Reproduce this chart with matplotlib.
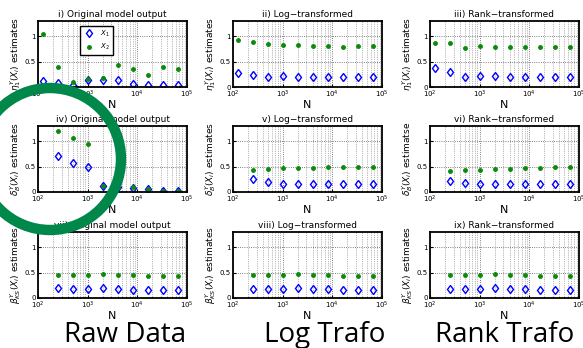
import numpy as np
import matplotlib.pyplot as plt
from matplotlib.patches import Ellipse

N10 = [128, 256, 512, 1024, 2048, 4096, 8192, 16384, 32768, 65536]
N9 = N10[1:]

titles = ["i) Original model output", "ii) Log\u2212transformed", "iii) Rank\u2212transformed",
          "iv) Original model output", "v) Log\u2212transformed", "vi) Rank\u2212transformed",
          "vii) Original model output", "viii) Log\u2212transformed", "ix) Rank\u2212transformed"]
ylabels = [r"$\eta_1^Y(X_i)$ estimates"] * 3 + \
          [r"$\delta_B^Y(X_i)$ estimates", r"$\delta_B^Y(X_i)$ estimates", r"$\delta_B^Y(X_i)$ estimatse"] + \
          [r"$\beta_{KS}^Y(X_i)$ estimates"] * 3

# eta (row 1)
eta_raw_x1 = [0.12, 0.08, 0.03, 0.14, 0.13, 0.13, 0.06, 0.03, 0.03, 0.03]
eta_raw_x2 = [1.05, 0.39, 0.09, 0.16, 0.17, 0.44, 0.36, 0.24, 0.39, 0.36]
eta_log_x1 = [0.28, 0.24, 0.20, 0.21, 0.20, 0.19, 0.19, 0.19, 0.19, 0.19]
eta_log_x2 = [0.92, 0.89, 0.84, 0.82, 0.82, 0.80, 0.80, 0.79, 0.80, 0.80]
eta_rank_x1 = [0.38, 0.29, 0.20, 0.22, 0.21, 0.19, 0.19, 0.19, 0.19, 0.19]
eta_rank_x2 = [0.87, 0.87, 0.76, 0.80, 0.79, 0.78, 0.78, 0.78, 0.78, 0.78]

# delta (row 2)
dB_raw_x1 = [0.71, 0.58, 0.49, 0.12, 0.10, 0.08, 0.05, 0.01, 0.01]
dB_raw_x2 = [1.21, 1.06, 0.95, 0.12, 0.10, 0.09, 0.06, 0.01, 0.01]
dB_log_x1 = [0.25, 0.19, 0.16, 0.15, 0.15, 0.15, 0.15, 0.15, 0.15]
dB_log_x2 = [0.44, 0.45, 0.47, 0.47, 0.48, 0.49, 0.49, 0.49, 0.50]
dB_rank_x1 = [0.21, 0.17, 0.15, 0.15, 0.15, 0.15, 0.15, 0.15, 0.15]
dB_rank_x2 = [0.42, 0.43, 0.44, 0.45, 0.46, 0.47, 0.48, 0.49, 0.50]

# beta KS (row 3)
bKS_raw_x1 = [0.19, 0.18, 0.18, 0.20, 0.18, 0.16, 0.16, 0.16, 0.16]
bKS_raw_x2 = [0.45, 0.45, 0.45, 0.47, 0.46, 0.45, 0.44, 0.44, 0.44]
bKS_log_x1 = [0.18, 0.17, 0.17, 0.19, 0.17, 0.17, 0.16, 0.16, 0.15]
bKS_log_x2 = [0.45, 0.45, 0.45, 0.47, 0.46, 0.45, 0.44, 0.44, 0.44]
bKS_rank_x1 = [0.18, 0.17, 0.17, 0.19, 0.17, 0.17, 0.16, 0.16, 0.15]
bKS_rank_x2 = [0.45, 0.45, 0.45, 0.47, 0.46, 0.45, 0.44, 0.44, 0.44]

series = [(N10, eta_raw_x1, eta_raw_x2), (N10, eta_log_x1, eta_log_x2), (N10, eta_rank_x1, eta_rank_x2),
          (N9, dB_raw_x1, dB_raw_x2), (N9, dB_log_x1, dB_log_x2), (N9, dB_rank_x1, dB_rank_x2),
          (N9, bKS_raw_x1, bKS_raw_x2), (N9, bKS_log_x1, bKS_log_x2), (N9, bKS_rank_x1, bKS_rank_x2)]

W, H = 583, 348
fig = plt.figure(figsize=(W / 100, H / 100), dpi=100)

lefts = [38, 233, 430]
tops = [21, 126, 232]
aw, ah = 149, 66

for k in range(9):
    r, c = divmod(k, 3)
    ax = fig.add_axes([lefts[c] / W, 1 - (tops[r] + ah) / H, aw / W, ah / H])
    n, x1, x2 = series[k]
    ax.plot(n, x1, 'd', mfc='none', mec='blue', ms=4.5, mew=1.0, label=r'$X_1$')
    ax.plot(n, x2, '.', color='#0a8a0a', ms=5, label=r'$X_2$')
    ax.set_xscale('log')
    ax.set_xlim(1e2, 1e5)
    ax.set_ylim(0, 1.3)
    ax.set_yticks([0, 0.5, 1])
    ax.set_yticklabels(['0', '0.5', '1'])
    ax.set_xticks([1e2, 1e3, 1e4, 1e5])
    ax.grid(True, which='major', ls=':', color='#555555', lw=0.6)
    ax.grid(True, which='minor', axis='x', ls=':', color='#777777', lw=0.5)
    ax.tick_params(which='both', direction='in', labelsize=5, length=2, pad=1.5)
    ax.tick_params(which='minor', length=1)
    for s in ax.spines.values():
        s.set_linewidth(1.3)
    ax.set_title(titles[k], fontsize=6.5, pad=3)
    ax.set_xlabel('N', fontsize=8, labelpad=0)
    ax.set_ylabel(ylabels[k], fontsize=6.5, labelpad=1)
    if k == 0:
        leg = ax.legend(loc='upper left', bbox_to_anchor=(0.26, 0.98), fontsize=5,
                        frameon=True, fancybox=False, edgecolor='black', framealpha=1,
                        handletextpad=0.9, borderpad=0.4, labelspacing=0.5,
                        handlelength=1.6)
        leg.get_frame().set_linewidth(1.0)

for label, xc in [("Raw Data", 125), ("Log Trafo", 325), ("Rank Trafo", 505)]:
    fig.text(xc / W, 1 - 335 / H, label, ha='center', va='center',
             fontsize=20, family='Open Sans')

# green ring drawn over the left column
ring = Ellipse((50 / W, 1 - 159 / H), 142 / W, 142 / H,
               transform=fig.transFigure, fill=False, ec='#00874a', lw=7.5)
fig.patches.append(ring)

fig.savefig('out.png', dpi=100)
